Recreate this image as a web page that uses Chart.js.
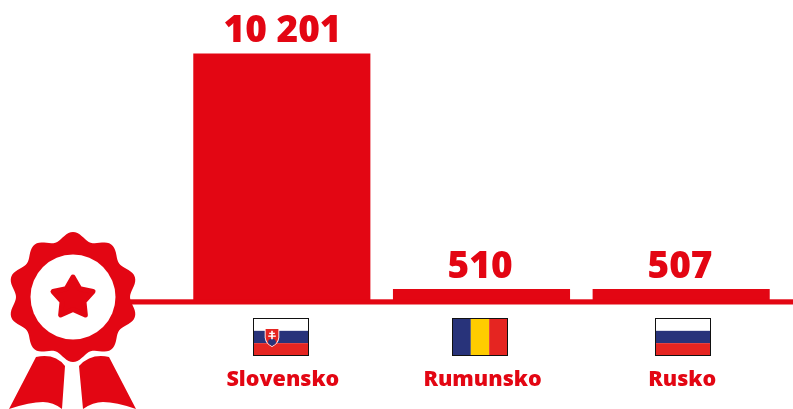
<!DOCTYPE html>
<html>
<head>
<meta charset="utf-8">
<style>
  html, body { margin: 0; padding: 0; background: #fff; }
  canvas { display: block; }
</style>
<script src="https://cdn.jsdelivr.net/npm/chart.js@4"></script>
</head>
<body>
<canvas id="graf" width="793" height="409"></canvas>
<script>
var krajiny = ['Slovensko', 'Rumunsko', 'Rusko'];
var hodnoty = [10201, 510, 507];
var popisky = ['10 201', '510', '507'];
var cervena = '#e30613';
var posunVlajok = [-1, -2, 2];
var posunHodnot = [0.7, -1.4, -1.2];

function pruhy(ctx, x, y, w, h, farby, vertikalne) {
  farby.forEach(function (f, i) {
    ctx.fillStyle = f;
    if (vertikalne) ctx.fillRect(x + w * i / farby.length, y, w / farby.length, h);
    else ctx.fillRect(x, y + h * i / farby.length, w, h / farby.length);
  });
}

function obrysZnaku(ctx, x, y, w, h) {
  ctx.beginPath();
  ctx.moveTo(x - w, y);
  ctx.lineTo(x + w, y);
  ctx.lineTo(x + w, y + h * 0.5);
  ctx.quadraticCurveTo(x + w * 0.9, y + h * 0.85, x, y + h);
  ctx.quadraticCurveTo(x - w * 0.9, y + h * 0.85, x - w, y + h * 0.5);
  ctx.closePath();
}

// slovensky znak na vlajke
function znak(ctx, x, y) {
  obrysZnaku(ctx, x, y, 7.3, 18.6);
  ctx.fillStyle = '#fff';
  ctx.fill();
  obrysZnaku(ctx, x, y + 0.8, 6.4, 17);
  ctx.fillStyle = '#e52521';
  ctx.fill();
  ctx.fillStyle = '#28337a';
  ctx.beginPath();
  ctx.arc(x, y + 14.5, 4, Math.PI, 0);
  ctx.quadraticCurveTo(x + 3, y + 16.5, x, y + 17.6);
  ctx.quadraticCurveTo(x - 3, y + 16.5, x - 4, y + 14.5);
  ctx.fill();
  ctx.fillStyle = '#fff';
  ctx.fillRect(x - 0.8, y + 2.5, 1.6, 8.5);
  ctx.fillRect(x - 2.8, y + 4.4, 5.6, 1.3);
  ctx.fillRect(x - 3.8, y + 7.2, 7.6, 1.3);
}

function vlajka(ctx, i, x, y, w, h) {
  if (i === 0) {
    pruhy(ctx, x, y, w, h, ['#ffffff', '#28337a', '#e52521'], false);
    znak(ctx, x + 18.5, y + 9.8);
  } else if (i === 1) {
    pruhy(ctx, x, y, w, h, ['#28337a', '#ffcc00', '#e52521'], true);
  } else {
    pruhy(ctx, x, y, w, h, ['#ffffff', '#28337a', '#e52521'], false);
  }
  ctx.strokeStyle = '#111';
  ctx.lineWidth = 1;
  ctx.strokeRect(x, y, w, h);
}

function obrysRuzety(ctx, cx, cy) {
  ctx.beginPath();
  for (var a = 0; a <= 360; a += 2) {
    var t = a * Math.PI / 180;
    var r = 61 + 4 * Math.cos(10 * t);
    var px = cx + r * Math.sin(t), py = cy - r * Math.cos(t);
    if (a === 0) ctx.moveTo(px, py); else ctx.lineTo(px, py);
  }
  ctx.closePath();
}

// ruzeta s hviezdou a stuhami
function ruzeta(ctx) {
  var cx = 73, cy = 297;
  ctx.fillStyle = cervena;

  ctx.beginPath();
  ctx.moveTo(36, 357);
  ctx.quadraticCurveTo(55, 353, 65, 366);
  ctx.lineTo(62, 409);
  ctx.quadraticCurveTo(53, 402, 43, 402);
  ctx.quadraticCurveTo(30, 402, 9, 409);
  ctx.closePath();
  ctx.fill();

  ctx.beginPath();
  ctx.moveTo(109, 357);
  ctx.quadraticCurveTo(91, 353, 79, 366);
  ctx.lineTo(83, 409);
  ctx.quadraticCurveTo(93, 402, 103, 402);
  ctx.quadraticCurveTo(116, 402, 136, 409);
  ctx.closePath();
  ctx.fill();

  // biela medzera medzi ruzetou a stuhami
  ctx.save();
  ctx.beginPath();
  ctx.rect(0, 340, 146, 30);
  ctx.clip();
  obrysRuzety(ctx, cx, cy);
  ctx.strokeStyle = '#fff';
  ctx.lineWidth = 6;
  ctx.stroke();
  ctx.restore();

  obrysRuzety(ctx, cx, cy);
  ctx.fillStyle = cervena;
  ctx.fill();

  ctx.fillStyle = '#fff';
  ctx.beginPath();
  ctx.arc(cx, cy, 42.5, 0, Math.PI * 2);
  ctx.fill();

  ctx.fillStyle = cervena;
  ctx.strokeStyle = cervena;
  ctx.lineWidth = 5;
  ctx.lineJoin = 'round';
  ctx.beginPath();
  for (var k = 0; k < 10; k++) {
    var u = k * Math.PI / 5;
    var s = k % 2 === 0 ? 21 : 11.5;
    var qx = cx + s * Math.sin(u), qy = cy + 1 - s * Math.cos(u);
    if (k === 0) ctx.moveTo(qx, qy); else ctx.lineTo(qx, qy);
  }
  ctx.closePath();
  ctx.fill();
  ctx.stroke();
}

var doplnky = {
  id: 'doplnky',
  afterDatasetsDraw: function (chart) {
    var ctx = chart.ctx;
    var meta = chart.getDatasetMeta(0);
    ctx.save();

    // os
    ctx.fillStyle = cervena;
    ctx.fillRect(130, 299.3, 663, 5.2);

    // hodnoty nad stlpcami
    ctx.font = '800 37px "Open Sans"';
    ctx.textAlign = 'center';
    ctx.textBaseline = 'alphabetic';
    meta.data.forEach(function (bar, i) {
      ctx.fillStyle = cervena;
      ctx.fillText(popisky[i], bar.x + posunHodnot[i], bar.y - 11.5);
    });

    // vlajky
    meta.data.forEach(function (bar, i) {
      vlajka(ctx, i, Math.round(bar.x) - 28 + posunVlajok[i] + 0.5, 318.5, 55, 37);
    });

    ruzeta(ctx);
    ctx.restore();
  }
};

new Chart(document.getElementById('graf').getContext('2d'), {
  type: 'bar',
  data: {
    labels: krajiny,
    datasets: [{
      data: hodnoty,
      backgroundColor: cervena,
      borderWidth: 0,
      categoryPercentage: 1,
      barPercentage: 0.887
    }]
  },
  plugins: [doplnky],
  options: {
    responsive: false,
    animation: false,
    layout: { padding: { left: 182, right: 12, top: 0, bottom: 0 } },
    plugins: { legend: { display: false }, tooltip: { enabled: false } },
    scales: {
      x: {
        grid: { display: false },
        border: { display: false },
        afterFit: function (scale) { scale.height = 107.6; },
        ticks: {
          color: cervena,
          padding: 58,
          labelOffset: 1,
          maxRotation: 0,
          font: { family: '"Open Sans"', size: 21.5, weight: '800' }
        }
      },
      y: { display: false, min: 0, max: 12400 }
    }
  }
});
</script>
</body>
</html>
